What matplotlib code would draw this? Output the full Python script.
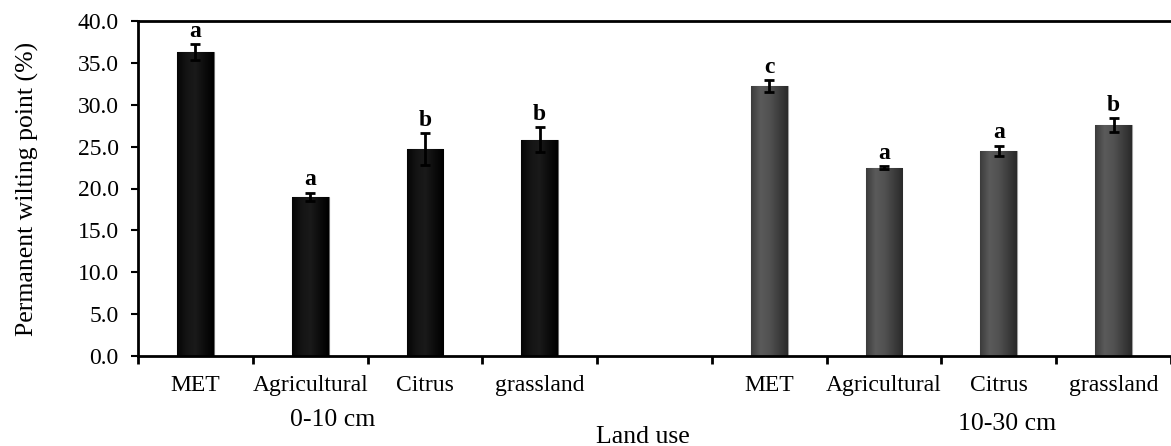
import numpy as np
import matplotlib
matplotlib.use("Agg")
import matplotlib.pyplot as plt

categories = ["MET", "Agricultural", "Citrus", "grassland"]
depths = ["0-10 cm", "10-30 cm"]
values_0_10 = [36.3, 19.0, 24.7, 25.8]
errors_0_10 = [0.9, 0.5, 1.9, 1.5]
letters_0_10 = ["a", "a", "b", "b"]
values_10_30 = [32.2, 22.5, 24.5, 27.6]
errors_10_30 = [0.7, 0.15, 0.6, 0.8]
letters_10_30 = ["c", "a", "a", "b"]
yticks = [0, 5, 10, 15, 20, 25, 30, 35, 40]

plt.rcParams['font.family'] = ['Liberation Serif', 'DejaVu Serif']

fig = plt.figure(figsize=(11.71, 4.46), dpi=100)
ax = fig.add_axes([138/1171, 1-356/446, 1033/1171, (356-21)/446])

n = len(categories)
pos1 = np.arange(n) + 0.5
pos2 = np.arange(n) + n + 1.5
bw = 0.32

groups = [
    (pos1, values_0_10, errors_0_10, letters_0_10,
     ["#050505", "#141414", "#1a1a1a", "#0c0c0c", "#000000"], "#0a0a0a", "#6a6a6a"),
    (pos2, values_10_30, errors_10_30, letters_10_30,
     ["#3c3c3c", "#5a5a5a", "#525252", "#3e3e3e", "#2a2a2a"], "#4a4a4a", "#a0a0a0"),
]
for pos, vals, errs, lets, grad, col, edge in groups:
    bars = ax.bar(pos, vals, width=bw, color=col, edgecolor=edge, linewidth=0.8, zorder=2)
    cmap = matplotlib.colors.LinearSegmentedColormap.from_list("g", grad)
    gradimg = np.linspace(0, 1, 64).reshape(1, -1)
    for b in bars:
        x0, y0 = b.get_x(), b.get_y()
        w, h = b.get_width(), b.get_height()
        im = ax.imshow(gradimg, cmap=cmap, extent=[x0, x0 + w, y0, y0 + h],
                       aspect='auto', zorder=2.1, origin='lower')
        im.set_clip_path(b)
    ax.errorbar(pos, vals, yerr=errs, fmt='none', ecolor='black', elinewidth=2,
                capsize=3.5, capthick=2, zorder=3)
    for p, v, e, l in zip(pos, vals, errs, lets):
        ax.text(p, v + e + 0.3, l, ha='center', va='bottom', fontsize=17,
                fontweight='bold')

ax.set_xlim(0, 2 * n + 1)
ax.set_ylim(0, 40)
ax.set_yticks(yticks)
ax.set_yticklabels([f"{t:.1f}" for t in yticks], fontsize=17)
ax.set_xticks(np.arange(0, 2 * n + 2))
ax.set_xticklabels([])
ax.set_xticks(np.concatenate([pos1, pos2]), minor=True)
ax.set_xticklabels(categories + categories, minor=True, fontsize=17)
ax.tick_params(axis='x', which='major', direction='out', length=6, width=2)
ax.tick_params(axis='x', which='minor', length=0, pad=14)
ax.tick_params(axis='y', direction='out', length=5, width=1.5, pad=9)
for s in ['left', 'bottom', 'top']:
    ax.spines[s].set_linewidth(2)
ax.spines['right'].set_visible(False)

ax.set_ylabel("Permanent wilting point (%)", fontsize=18.5, labelpad=28)
fig.text(333/1171, 1-420/446, depths[0], ha='center', va='center', fontsize=18.5)
fig.text(1007/1171, 1-424/446, depths[1], ha='center', va='center', fontsize=18.5)
fig.text(643/1171, 1-437/446, "Land use", ha='center', va='center', fontsize=18.5)

fig.savefig("out.png", dpi=100)
